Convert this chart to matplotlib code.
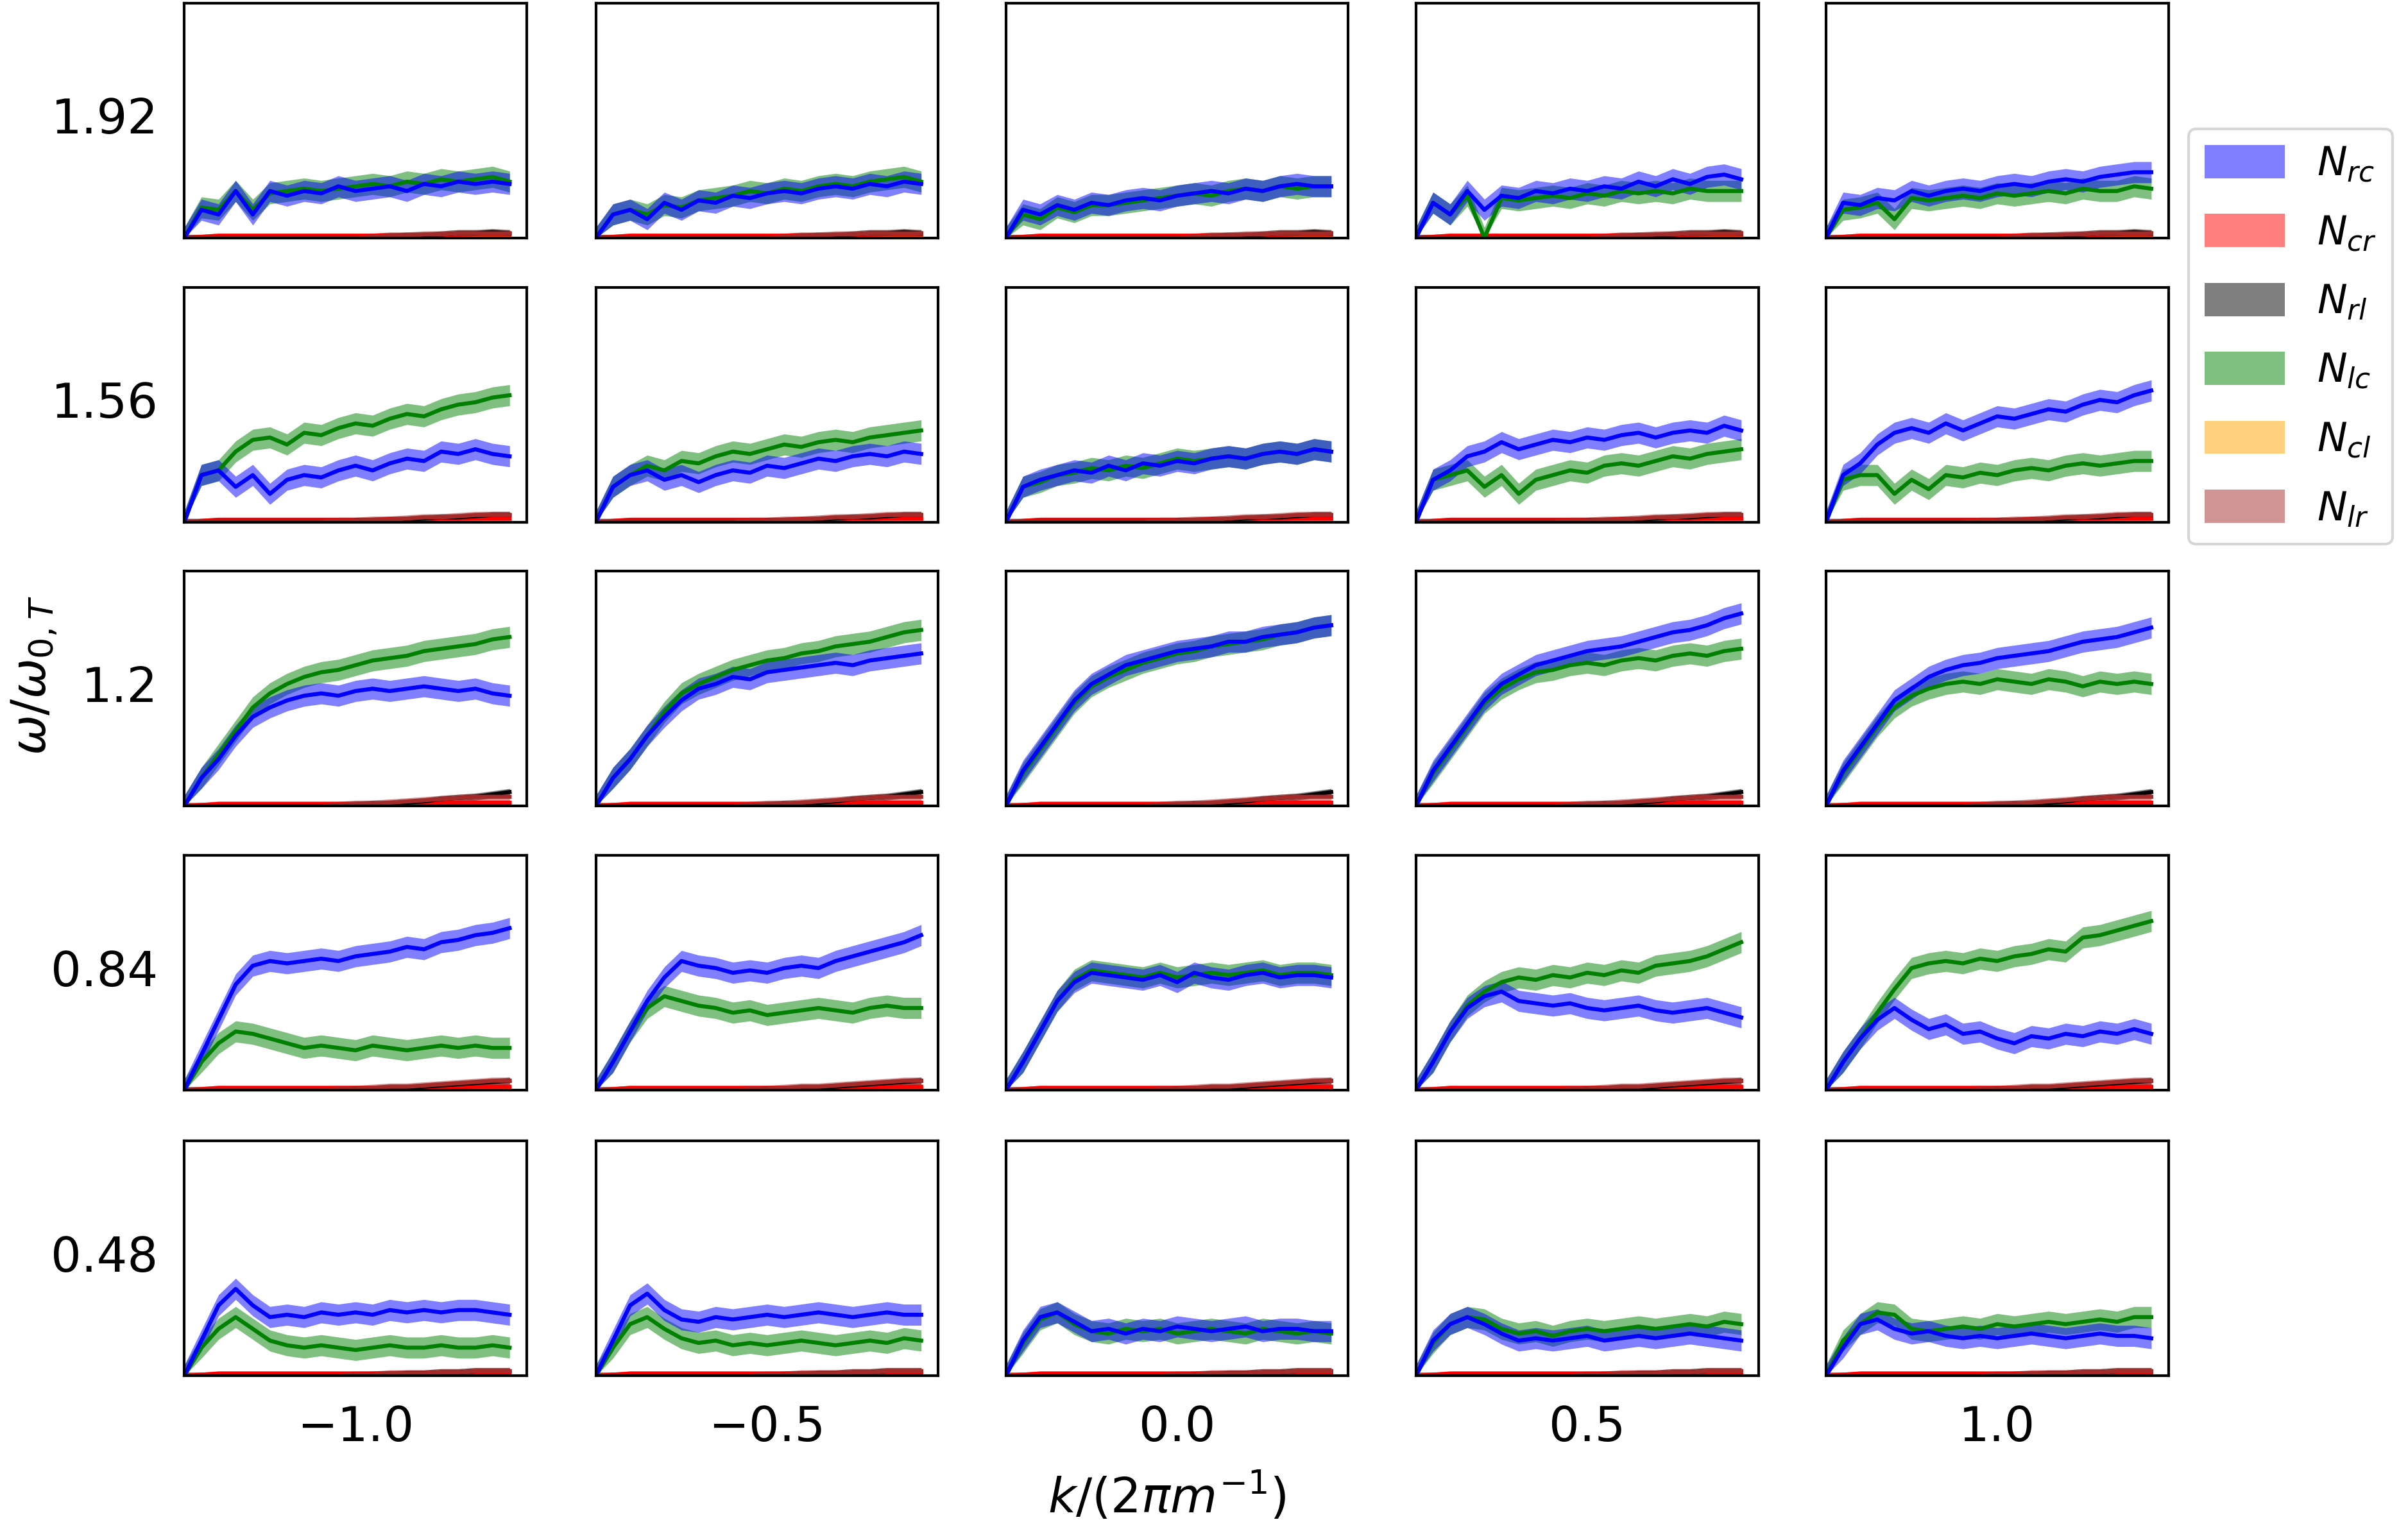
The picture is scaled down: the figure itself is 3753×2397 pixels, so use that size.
import matplotlib
matplotlib.use("Agg")
import matplotlib.pyplot as plt
from matplotlib.patches import Patch
import numpy as np

ROW_LABELS = ["1.92", "1.56", "1.2", "0.84", "0.48"]
COL_LABELS = ["\u22121.0", "\u22120.5", "0.0", "0.5", "1.0"]

BLUE = [
 [[0,.12,.1,.2,.1,.2,.18,.2,.19,.22,.2,.21,.22,.2,.23,.22,.24,.23,.24,.23],
  [0,.1,.12,.08,.15,.12,.16,.15,.18,.17,.19,.2,.19,.21,.22,.21,.23,.22,.24,.23],
  [0,.12,.1,.14,.12,.15,.14,.16,.17,.16,.18,.19,.2,.19,.21,.2,.22,.23,.22,.22],
  [0,.15,.1,.2,.12,.18,.17,.2,.19,.21,.2,.22,.21,.24,.22,.25,.23,.26,.27,.25],
  [0,.15,.14,.17,.16,.2,.18,.2,.21,.2,.22,.23,.22,.24,.25,.24,.26,.27,.28,.28]],
 [[0,.2,.22,.15,.2,.12,.18,.2,.19,.22,.24,.22,.25,.27,.26,.3,.29,.31,.29,.28],
  [0,.15,.2,.22,.18,.2,.17,.2,.22,.21,.24,.23,.25,.27,.26,.28,.29,.28,.3,.29],
  [0,.15,.18,.2,.22,.21,.24,.22,.25,.24,.26,.25,.27,.28,.27,.29,.3,.29,.31,.3],
  [0,.18,.22,.28,.3,.34,.31,.33,.35,.34,.36,.35,.37,.38,.36,.38,.39,.38,.41,.39],
  [0,.2,.25,.33,.38,.4,.38,.42,.39,.42,.45,.44,.46,.48,.47,.5,.52,.51,.54,.56]],
 [[0,.12,.2,.3,.38,.42,.45,.47,.48,.47,.49,.5,.49,.5,.51,.5,.49,.5,.48,.47],
  [0,.12,.2,.3,.38,.45,.5,.52,.55,.54,.57,.58,.59,.6,.61,.6,.62,.63,.64,.65],
  [0,.15,.25,.35,.45,.52,.56,.6,.62,.64,.66,.67,.68,.7,.7,.72,.73,.74,.76,.77],
  [0,.15,.25,.35,.45,.52,.56,.6,.62,.64,.66,.67,.68,.7,.72,.74,.75,.77,.8,.82],
  [0,.15,.25,.35,.45,.5,.55,.58,.6,.61,.63,.64,.65,.66,.68,.7,.71,.72,.74,.76]],
 [[0,.15,.3,.45,.53,.55,.54,.55,.56,.55,.57,.58,.59,.61,.6,.63,.64,.66,.67,.69],
  [0,.12,.25,.38,.48,.55,.53,.52,.5,.51,.5,.52,.53,.52,.55,.57,.59,.61,.63,.66],
  [0,.12,.25,.38,.46,.5,.49,.48,.47,.49,.46,.5,.48,.47,.49,.5,.48,.49,.49,.48],
  [0,.12,.25,.35,.4,.42,.38,.37,.36,.37,.35,.34,.35,.36,.34,.33,.34,.35,.33,.31],
  [0,.12,.22,.3,.35,.3,.26,.28,.24,.25,.22,.2,.23,.22,.24,.23,.25,.24,.26,.24]],
 [[0,.15,.3,.37,.3,.25,.26,.25,.27,.26,.27,.26,.28,.27,.28,.27,.28,.28,.27,.26],
  [0,.15,.3,.35,.28,.24,.23,.25,.24,.25,.26,.25,.26,.27,.26,.25,.26,.27,.26,.26],
  [0,.15,.25,.27,.23,.19,.2,.18,.2,.19,.21,.2,.19,.2,.21,.19,.2,.2,.19,.19],
  [0,.15,.22,.25,.22,.18,.15,.16,.15,.16,.17,.15,.16,.17,.16,.17,.18,.17,.16,.15],
  [0,.12,.22,.24,.2,.18,.19,.17,.16,.17,.16,.17,.18,.17,.16,.17,.18,.17,.17,.16]],
]

GREEN = [
 [[0,.13,.12,.2,.12,.19,.2,.21,.2,.21,.22,.23,.22,.24,.23,.25,.24,.25,.26,.24],
  [0,.1,.12,.1,.14,.13,.16,.17,.18,.2,.19,.21,.2,.22,.23,.22,.24,.25,.26,.24],
  [0,.1,.08,.13,.11,.14,.14,.15,.16,.17,.18,.19,.18,.2,.21,.2,.22,.21,.22,.22],
  [0,.15,.1,.18,.0,.17,.16,.17,.18,.17,.19,.18,.2,.19,.2,.19,.21,.2,.2,.2],
  [0,.12,.13,.15,.08,.17,.16,.17,.18,.17,.19,.18,.19,.2,.19,.21,.2,.2,.22,.21]],
 [[0,.2,.22,.3,.35,.36,.33,.38,.37,.4,.42,.41,.44,.46,.45,.48,.5,.51,.53,.54],
  [0,.15,.2,.24,.22,.26,.25,.28,.3,.29,.31,.33,.32,.34,.35,.34,.36,.37,.38,.39],
  [0,.15,.17,.2,.21,.23,.22,.24,.23,.25,.27,.26,.27,.28,.27,.29,.3,.29,.31,.3],
  [0,.18,.2,.22,.15,.2,.12,.18,.2,.22,.21,.24,.25,.24,.26,.28,.27,.29,.3,.31],
  [0,.18,.2,.2,.12,.18,.14,.2,.19,.21,.2,.22,.23,.22,.24,.25,.24,.25,.26,.26]],
 [[0,.12,.22,.32,.42,.48,.52,.55,.57,.58,.6,.62,.63,.64,.66,.67,.68,.69,.71,.72],
  [0,.12,.2,.3,.4,.48,.52,.55,.58,.6,.62,.63,.65,.66,.68,.69,.7,.72,.74,.75],
  [0,.14,.24,.34,.44,.51,.55,.58,.61,.63,.65,.66,.68,.69,.7,.71,.73,.74,.76,.77],
  [0,.14,.24,.34,.44,.5,.54,.57,.58,.6,.61,.6,.62,.63,.62,.64,.65,.64,.66,.67],
  [0,.14,.24,.34,.42,.47,.5,.52,.53,.52,.54,.53,.52,.54,.53,.51,.53,.52,.53,.52]],
 [[0,.12,.2,.25,.24,.22,.2,.18,.19,.18,.17,.19,.18,.17,.18,.19,.18,.19,.18,.18],
  [0,.12,.25,.35,.4,.38,.36,.35,.33,.34,.32,.33,.34,.35,.34,.33,.35,.36,.35,.35],
  [0,.12,.25,.38,.47,.51,.5,.49,.48,.5,.48,.49,.5,.49,.5,.51,.49,.5,.5,.49],
  [0,.12,.25,.36,.42,.46,.48,.47,.49,.48,.5,.49,.51,.5,.53,.54,.55,.57,.6,.63],
  [0,.12,.22,.33,.43,.52,.54,.55,.54,.56,.55,.57,.58,.6,.59,.65,.66,.68,.7,.72]],
 [[0,.12,.2,.25,.2,.15,.13,.12,.13,.12,.11,.12,.13,.12,.12,.13,.12,.12,.13,.12],
  [0,.12,.22,.25,.2,.16,.14,.15,.13,.14,.13,.14,.15,.14,.13,.14,.15,.14,.16,.15],
  [0,.14,.24,.27,.22,.19,.18,.2,.19,.2,.18,.19,.2,.19,.18,.2,.19,.18,.19,.18],
  [0,.14,.22,.25,.24,.2,.18,.19,.17,.19,.2,.19,.2,.21,.2,.21,.22,.21,.23,.22],
  [0,.15,.22,.27,.26,.2,.19,.2,.21,.2,.22,.21,.22,.23,.22,.23,.24,.23,.25,.25]],
]

BLACK = [
 [0,0,0,0,0,0,0,0,0,0,0,0,.005,.01,.01,.015,.02,.02,.025,.02],
 [0,0,0,0,0,0,0,0,0,0,.005,.005,.01,.01,.015,.02,.02,.025,.03,.03],
 [0,0,0,0,0,0,0,0,0,0,.005,.01,.01,.015,.02,.03,.035,.04,.05,.06],
 [0,0,0,0,0,0,0,0,0,0,.005,.005,.01,.01,.015,.02,.025,.03,.035,.04],
 [0,0,0,0,0,0,0,0,0,0,0,.005,.005,.01,.01,.015,.015,.02,.02,.02],
]
BROWN = [
 [0,0,0,0,0,0,0,0,0,0,0,.005,.01,.01,.015,.015,.02,.02,.02,.02],
 [0,0,0,0,0,0,0,0,0,.005,.005,.01,.01,.015,.02,.02,.025,.03,.03,.03],
 [0,0,0,0,0,0,0,0,0,.005,.01,.01,.015,.02,.025,.03,.035,.04,.04,.04],
 [0,0,0,0,0,0,0,0,0,.005,.005,.01,.015,.015,.02,.025,.03,.035,.04,.04],
 [0,0,0,0,0,0,0,0,0,0,.005,.005,.01,.01,.01,.015,.015,.02,.02,.02],
]
RED = [0,.005,.01,.01,.01,.01,.01,.01,.01,.01,.01,.01,.012,.012,.012,.014,.014,.015,.015,.015]
ORANGE = [0,.004,.006,.006,.006,.006,.006,.006,.006,.006,.006,.006,.006,.006,.006,.006,.006,.006,.006,.006]

LEGEND_LABELS = ["$N_{rc}$", "$N_{cr}$", "$N_{rl}$", "$N_{lc}$", "$N_{cl}$", "$N_{lr}$"]
LEGEND_COLORS = ["blue", "red", "black", "green", "orange", "brown"]

W, H = 1568.0, 1001.6
fig = plt.figure(figsize=(12.51, 7.99), dpi=300)
col_left = [120, 388, 655, 922, 1189]
row_top = [2, 187, 372, 557, 743]
pw, ph = 223, 153

def band(ax, y, color, hw, lc):
    y = np.asarray(y, float)
    x = np.arange(len(y))
    ax.fill_between(x, np.clip(y - hw, 0, None), y + hw, color=color, alpha=0.5, lw=0)
    ax.plot(x, y, color=lc, lw=1.5)

for r in range(5):
    for c in range(5):
        ax = fig.add_axes([col_left[c] / W, 1 - (row_top[r] + ph) / H, pw / W, ph / H])
        band(ax, ORANGE, "orange", 0.01, "orange")
        band(ax, RED, "red", 0.01, "red")
        band(ax, BLACK[r], "black", 0.015, "black")
        band(ax, BROWN[r], "brown", 0.015, "brown")
        band(ax, GREEN[r][c], "green", 0.045, "green")
        band(ax, BLUE[r][c], "blue", 0.045, "blue")
        ax.set_xlim(0, 20)
        ax.set_ylim(0, 1)
        ax.set_xticks([]); ax.set_yticks([])
        for s in ax.spines.values():
            s.set_linewidth(1.0)

for r, lab in enumerate(ROW_LABELS):
    fig.text(103 / W, 1 - (row_top[r] + ph / 2) / H, lab, ha="right", va="center", fontsize=18)
for c, lab in enumerate(COL_LABELS):
    fig.text((col_left[c] + pw / 2) / W, 1 - 930 / H, lab, ha="center", va="center", fontsize=18)
fig.text(760 / W, 1 - 975 / H, "$k/(2\\pi m^{-1})$", ha="center", va="center", fontsize=18)
fig.text(22 / W, 1 - 440 / H, "$\\omega/\\omega_{0,T}$", ha="center", va="center", rotation=90, fontsize=18)

handles = [Patch(facecolor=col, edgecolor="none", alpha=0.5) for col in LEGEND_COLORS]
fig.legend(handles, LEGEND_LABELS, loc="upper left", bbox_to_anchor=(1425 / W, 1 - 84 / H),
           fontsize=15, handlelength=2.0, handleheight=0.9, labelspacing=0.75, borderaxespad=0)

fig.savefig("out.png", dpi=300)
